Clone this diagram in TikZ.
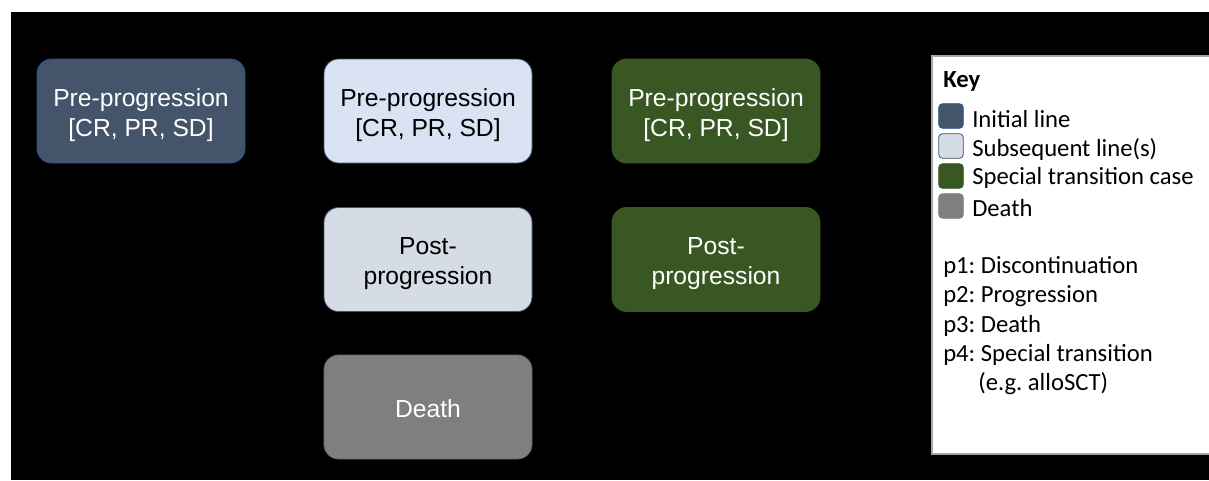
\documentclass[tikz,border=0pt]{standalone}
\usepackage{fontspec}
\setmainfont{Liberation Sans}
\newfontfamily\keyfont{Carlito}
\definecolor{initc}{HTML}{44546A}
\definecolor{initb}{HTML}{2F528F}
\definecolor{subc}{HTML}{DAE3F3}
\definecolor{postc}{HTML}{D6DCE5}
\definecolor{greenc}{HTML}{385723}
\definecolor{deathc}{HTML}{7F7F7F}
\begin{document}
\frenchspacing
\begin{tikzpicture}[x=0.75pt,y=-0.75pt,
  statebox/.style={rounded corners=11pt, minimum width=156pt, minimum height=78pt,
     inner sep=0pt, line width=0.6pt},
  boxtext/.style={align=center, font=\fontsize{18.5}{22.5}\selectfont, inner sep=0pt},
  swatch/.style={rounded corners=3pt, minimum width=18.5pt, minimum height=18.5pt, inner sep=0pt, line width=0.6pt},
  keytext/.style={anchor=west, font=\keyfont\fontsize{18.5}{22}\selectfont, inner sep=0pt}]
\useasboundingbox (0,0) rectangle (1209,480);
\fill[white] (0,0) rectangle (1209,480);
\fill[black] (11,12) rectangle (1209,480);
% state boxes
\node[statebox, fill=initc, draw=initb] (init) at (141,111) {};
\node[boxtext, text=white] (initt) at ([yshift=-3pt]init.center) {Pre-progression\\{}[CR, PR, SD]};
\node[statebox, fill=subc, draw=initc] (subpre) at (428,111) {};
\node[boxtext, text=black] (subpret) at ([yshift=-3pt]subpre.center) {Pre-progression\\{}[CR, PR, SD]};
\node[statebox, fill=postc, draw=initc] (subpost) at (428,259.5) {};
\node[boxtext, text=black] (subpostt) at ([yshift=-3pt]subpost.center) {Post-\\progression};
\node[statebox, fill=deathc, draw=deathc!80!black] (death) at (428,407) {};
\node[boxtext, text=white] (deatht) at ([yshift=-1pt]death.center) {Death};
\node[statebox, fill=greenc, draw=greenc] (spre) at (716,111) {};
\node[boxtext, text=white] (spret) at ([yshift=-3pt]spre.center) {Pre-progression\\{}[CR, PR, SD]};
\node[statebox, fill=greenc, draw=greenc] (spost) at (716,259.5) {};
\node[boxtext, text=white] (spostt) at ([yshift=-3pt]spost.center) {Post-\\progression};
% key
\draw[fill=white, draw=gray!70, line width=0.8pt] (932,56) rectangle (1212,454);
\node[keytext, font=\keyfont\bfseries\fontsize{18.5}{22}\selectfont] (keyt) at (943,81) {Key};
\node[swatch, fill=initc, draw=initb] (k1) at (951,116) {};
\node[swatch, fill=postc, draw=initc] (k2) at (951,146) {};
\node[swatch, fill=greenc, draw=greenc] (k3) at (951,176) {};
\node[swatch, fill=deathc, draw=deathc] (k4) at (951,206) {};
\node[keytext] (t1) at (972,119) {Initial line};
\node[keytext] (t2) at (972,149) {Subsequent line(s)};
\node[keytext] (t3) at (972,178) {Special transition case};
\node[keytext] (t4) at (972,208) {Death};
\node[keytext] (p1) at (943,267) {p1: Discontinuation};
\node[keytext] (p2) at (943,296) {p2: Progression};
\node[keytext] (p3) at (943,326) {p3: Death};
\node[keytext] (p4) at (943,355) {p4: Special transition};
\node[keytext] (p4b) at (978,384) {(e.g. alloSCT)};
\end{tikzpicture}
\end{document}
